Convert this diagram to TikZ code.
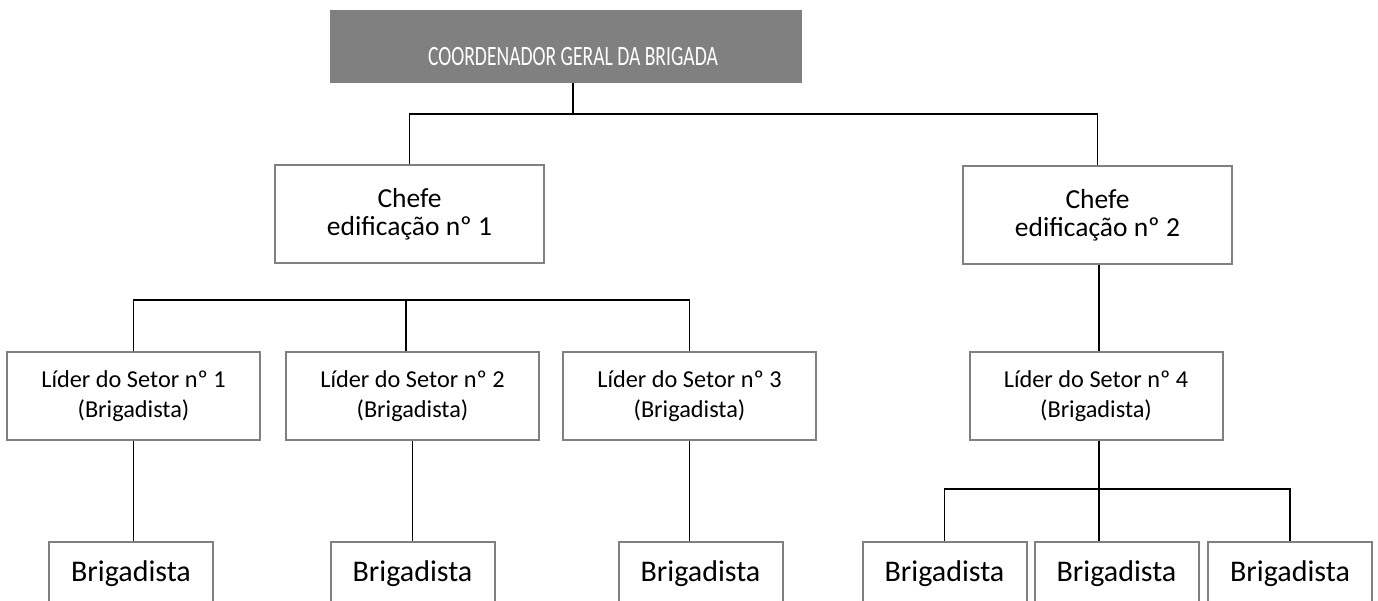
\documentclass[tikz,border=0pt]{standalone}
\usepackage{fontspec}
\setmainfont{Carlito}
\usepackage{tikz}
\usetikzlibrary{positioning}

\definecolor{boxgray}{RGB}{128,128,128}

\tikzset{
  box/.style={draw=boxgray, line width=2pt, rectangle, align=center, inner sep=0pt},
  chiefbox/.style={box, minimum width=269pt, minimum height=98pt, font=\fontsize{27.5}{28}\selectfont},
  leaderbox/.style={box, minimum width=253pt, minimum height=88pt, font=\fontsize{24.3}{29.5}\selectfont},
  memberbox/.style={box, minimum width=164pt, minimum height=64pt, font=\fontsize{30}{32}\selectfont},
  link/.style={draw=black, line width=1.3pt}
}

\begin{document}
\begin{tikzpicture}[x=1pt, y=-1pt]
        \useasboundingbox (0,0) rectangle (1378,600);
        % top level
        \node[fill=boxgray, minimum width=472pt, minimum height=73pt, inner sep=0pt] (coord) at (566,46.5) {};
        \node[text=white, inner sep=0pt] (coordtext) at (573,57)
            {\scalebox{0.70}[1]{\fontsize{28}{30}\selectfont COORDENADOR GERAL DA BRIGADA}};
        % chiefs
        \node[chiefbox] (chefeA) at (409.5,214) {Chefe\\edificação nº 1};
        \node[chiefbox] (chefeB) at (1097.5,215) {Chefe\\edificação nº 2};
        % sector leaders
        \node[leaderbox] (liderA) at (133.5,396) {Líder do Setor nº 1\\(Brigadista)};
        \node[leaderbox] (liderB) at (412.5,396) {Líder do Setor nº 2\\(Brigadista)};
        \node[leaderbox] (liderC) at (689.5,396) {Líder do Setor nº 3\\(Brigadista)};
        \node[leaderbox] (liderD) at (1096,396) {Líder do Setor nº 4\\(Brigadista)};
        % brigadistas
        \node[memberbox] (brigA) at (131,574) {Brigadista};
        \node[memberbox] (brigB) at (412.5,574) {Brigadista};
        \node[memberbox] (brigC) at (700.5,574) {Brigadista};
        \node[memberbox] (brigD) at (944.5,574) {Brigadista};
        \node[memberbox] (brigE) at (1116.5,574) {Brigadista};
        \node[memberbox] (brigF) at (1290,574) {Brigadista};
        % junction points
        \coordinate (barTop) at (573,114);
        \coordinate (barLeft) at (406,300);
        \coordinate (barRight) at (1099,489);
        % connectors
        \draw[link] (coord.south -| barTop) -- (barTop);
        \draw[link] (chefeA.north) |- (barTop) -| (chefeB.north);
        \draw[link] (liderA.north) |- (barLeft) -| (liderC.north);
        \draw[link] (barLeft) -- (barLeft |- liderB.north);
        \draw[link] (chefeB.south -| barRight) -- (liderD.north -| barRight);
        \draw[link] (liderA.south) -- (brigA.north -| liderA.south);
        \draw[link] (liderB.south) -- (brigB.north -| liderB.south);
        \draw[link] (liderC.south) -- (brigC.north -| liderC.south);
        \draw[link] (liderD.south -| barRight) -- (barRight);
        \draw[link] (brigD.north) |- (barRight) -| (brigF.north);
        \draw[link] (barRight) -- (brigE.north -| barRight);
    \end{tikzpicture}
\end{document}
